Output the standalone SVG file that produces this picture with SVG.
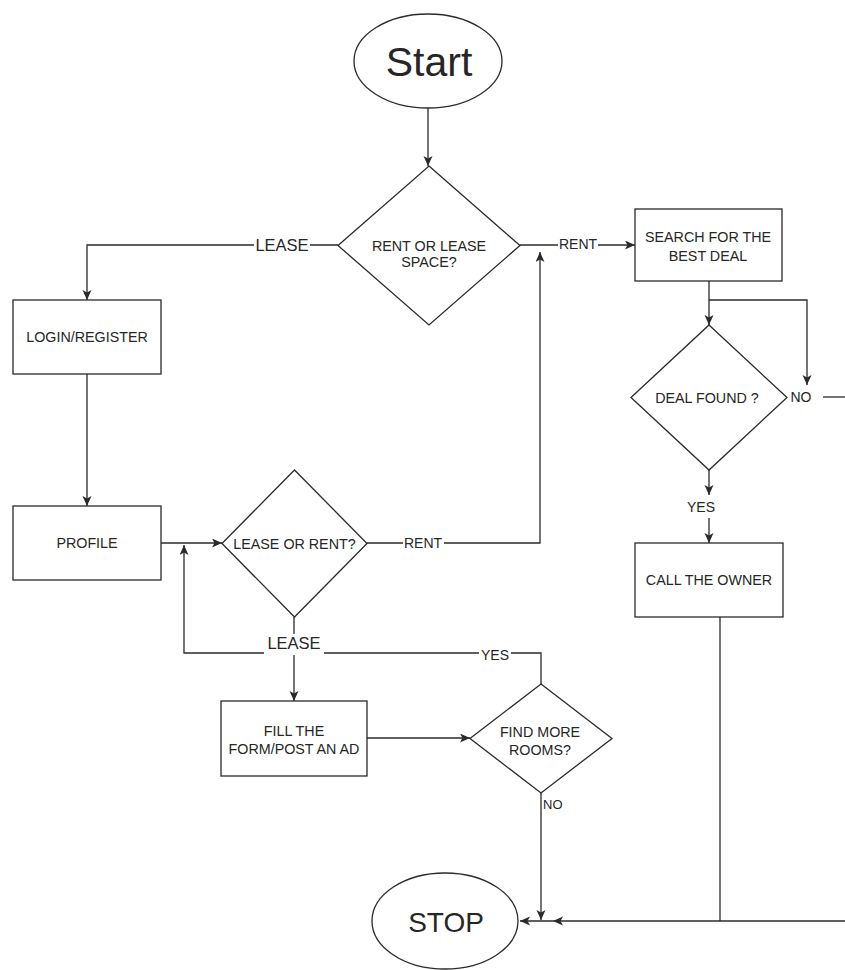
<svg xmlns="http://www.w3.org/2000/svg" width="845" height="970" viewBox="0 0 845 970">
<style>
.shape{fill:#fff;stroke:#2a2a2a;stroke-width:1.3}
.edge{fill:none;stroke:#2a2a2a;stroke-width:1.3}
.t{font-family:"Liberation Sans",Arial,sans-serif;font-size:14.3px;fill:#262626;text-anchor:middle}
.lbl{font-family:"Liberation Sans",Arial,sans-serif;font-size:14px;fill:#262626;text-anchor:middle}
.big{font-family:"Liberation Sans",Arial,sans-serif;fill:#262626;text-anchor:middle}
.bg{fill:#fff;stroke:none}
</style>
<defs>
<marker id="arr" markerUnits="userSpaceOnUse" markerWidth="11" markerHeight="10" refX="10" refY="4.5" orient="auto">
<path d="M0,0 L10,4.5 L0,9 L2.5,4.5 z" fill="#2a2a2a"/>
</marker>
</defs>
<rect width="845" height="970" fill="#fff"/>
<g id="connectors">
<path class="edge" d="M428,108 L428,166" marker-end="url(#arr)"/>
<path class="edge" d="M338,245 L87,245 L87,300" marker-end="url(#arr)"/>
<path class="edge" d="M520,245 L635,245" marker-end="url(#arr)"/>
<path class="edge" d="M87,374 L87,506" marker-end="url(#arr)"/>
<path class="edge" d="M161,543 L222,543" marker-end="url(#arr)"/>
<path class="edge" d="M367,543 L540,543 L540,252" marker-end="url(#arr)"/>
<path class="edge" d="M294,617 L294,701" marker-end="url(#arr)"/>
<path class="edge" d="M367,738 L470,738" marker-end="url(#arr)"/>
<path class="edge" d="M541,684 L541,653 L184,653 L184,545" marker-end="url(#arr)"/>
<path class="edge" d="M541,793 L541,920" marker-end="url(#arr)"/>
<path class="edge" d="M709,281 L709,325" marker-end="url(#arr)"/>
<path class="edge" d="M709,300 L807,300 L807,385" marker-end="url(#arr)"/>
<path class="edge" d="M823,397 L845,397"/>
<path class="edge" d="M709,470 L709,495" marker-end="url(#arr)"/>
<path class="edge" d="M709,518 L709,543" marker-end="url(#arr)"/>
<path class="edge" d="M720,617 L720,921"/>
<path class="edge" d="M845,921 L553,921" marker-end="url(#arr)"/>
<path class="edge" d="M553,921 L520,921" marker-end="url(#arr)"/>
<g id="edge-labels">
<rect class="bg" x="254" y="236" width="56" height="18"/>
<text class="lbl" x="282" y="251" style="font-size:16.5px">LEASE</text>
<rect class="bg" x="558" y="236" width="40" height="16"/>
<text class="lbl" x="578" y="249">RENT</text>
<rect class="bg" x="403" y="536" width="41" height="16"/>
<text class="lbl" x="423" y="548">RENT</text>
<rect class="bg" x="264" y="634" width="60" height="21"/>
<text class="lbl" x="294" y="649" style="font-size:16.5px">LEASE</text>
<rect class="bg" x="479" y="647" width="32" height="16"/>
<text class="lbl" x="495" y="660">YES</text>
<text class="lbl" x="701" y="512">YES</text>
<text class="lbl" x="801" y="402">NO</text>
<text class="lbl" x="543" y="809" style="text-anchor:start;font-size:13px">NO</text>
</g>
</g>
<g id="start">
<ellipse class="shape" cx="428" cy="61" rx="74" ry="47"/>
<text class="big" x="429" y="76" style="font-size:41px">Start</text>
</g>
<g id="rent-or-lease-space">
<polygon class="shape" points="429,166 520,245.5 429,325 338,245.5"/>
<text class="t" x="429" y="250.5">RENT OR LEASE</text>
<text class="t" x="429" y="266.5">SPACE?</text>
</g>
<g id="login-register">
<rect class="shape" x="13" y="300" width="148" height="74"/>
<text class="t" x="87" y="342">LOGIN/REGISTER</text>
</g>
<g id="profile">
<rect class="shape" x="13" y="506" width="148" height="74"/>
<text class="t" x="87" y="548">PROFILE</text>
</g>
<g id="lease-or-rent">
<polygon class="shape" points="294.5,470 367,543.5 294.5,617 222,543.5"/>
<text class="t" x="294.5" y="548.5">LEASE OR RENT?</text>
</g>
<g id="fill-the-form">
<rect class="shape" x="221" y="701" width="146" height="75"/>
<text class="t" x="294" y="736">FILL THE</text>
<text class="t" x="294" y="754">FORM/POST AN AD</text>
</g>
<g id="find-more-rooms">
<polygon class="shape" points="541,684 612,738.5 541,793 470,738.5"/>
<text class="t" x="540" y="737">FIND MORE</text>
<text class="t" x="540" y="755">ROOMS?</text>
</g>
<g id="search-best-deal">
<rect class="shape" x="635" y="209" width="147" height="72"/>
<text class="t" x="708" y="242">SEARCH FOR THE</text>
<text class="t" x="708" y="261">BEST DEAL</text>
</g>
<g id="deal-found">
<polygon class="shape" points="709,325 787,397.5 709,470 631,397.5"/>
<text class="t" x="707" y="403">DEAL FOUND ?</text>
</g>
<g id="call-the-owner">
<rect class="shape" x="635" y="543" width="148" height="74"/>
<text class="t" x="709" y="585">CALL THE OWNER</text>
</g>
<g id="stop">
<ellipse class="shape" cx="445" cy="921" rx="73" ry="48"/>
<text class="big" x="446" y="932" style="font-size:28px">STOP</text>
</g>
</svg>
